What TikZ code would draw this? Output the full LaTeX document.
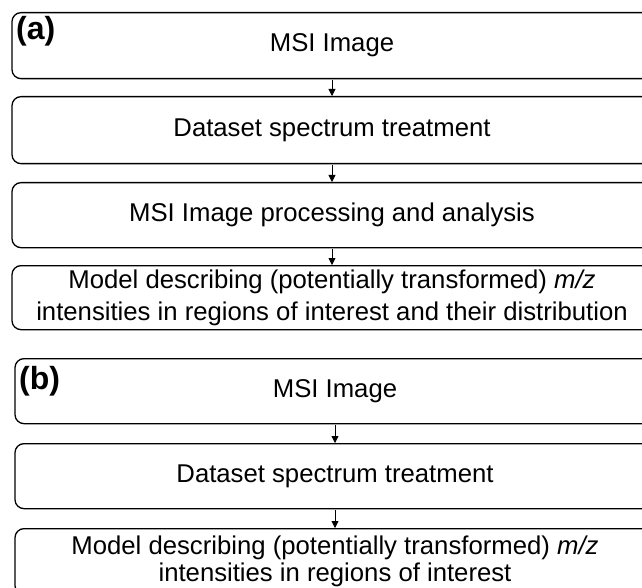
\documentclass[tikz,border=0pt]{standalone}
\usepackage{fontspec}
\setmainfont{Liberation Sans}
\usetikzlibrary{arrows.meta}
\begin{document}
\begin{tikzpicture}[x=1pt,y=-1pt,
  stage/.style={draw, line width=1.3pt, rounded corners=9pt, minimum width=640pt,
    inner sep=0pt, align=center, anchor=north,
    font=\fontsize{25.7}{32}\selectfont},
  flow/.style={-{Triangle[length=7pt,width=7pt]}, line width=0.8pt, shorten <=0.6pt},
  tag/.style={font=\fontsize{32}{34}\selectfont\bfseries, anchor=north west, inner sep=0pt}]
\useasboundingbox (0,0) rectangle (642,588);
\clip (0,0) rectangle (642,588);

% panel (a)
\node[stage, minimum height=66pt] (a1) at (332,12) {MSI Image};
\node[stage, minimum height=67pt] (a2) at (332,96) {Dataset spectrum treatment};
\node[stage, minimum height=65pt] (a3) at (332,182) {MSI Image processing and analysis};
\node[stage, minimum height=64pt] (a4) at (332,265)
  {Model describing (potentially transformed) \textit{m/z}\\
   intensities in regions of interest and their distribution};
\node[tag] (la) at (16,16) {(a)};
\draw[flow] (a1) -- (a2);
\draw[flow] (a2) -- (a3);
\draw[flow] (a3) -- (a4);

% panel (b); the last box runs past the lower edge
\node[stage, minimum height=65pt] (b1) at (335,358) {MSI Image};
\node[stage, minimum height=65pt] (b2) at (335,443) {Dataset spectrum treatment};
\node[stage, minimum height=66pt] (b3) at (335,528)
  {Model describing (potentially transformed) \textit{m/z}\\[-5pt]
   intensities in regions of interest};
\node[tag] (lb) at (19,366) {(b)};
\draw[flow] (b1) -- (b2);
\draw[flow] (b2) -- (b3);
\end{tikzpicture}
\end{document}
